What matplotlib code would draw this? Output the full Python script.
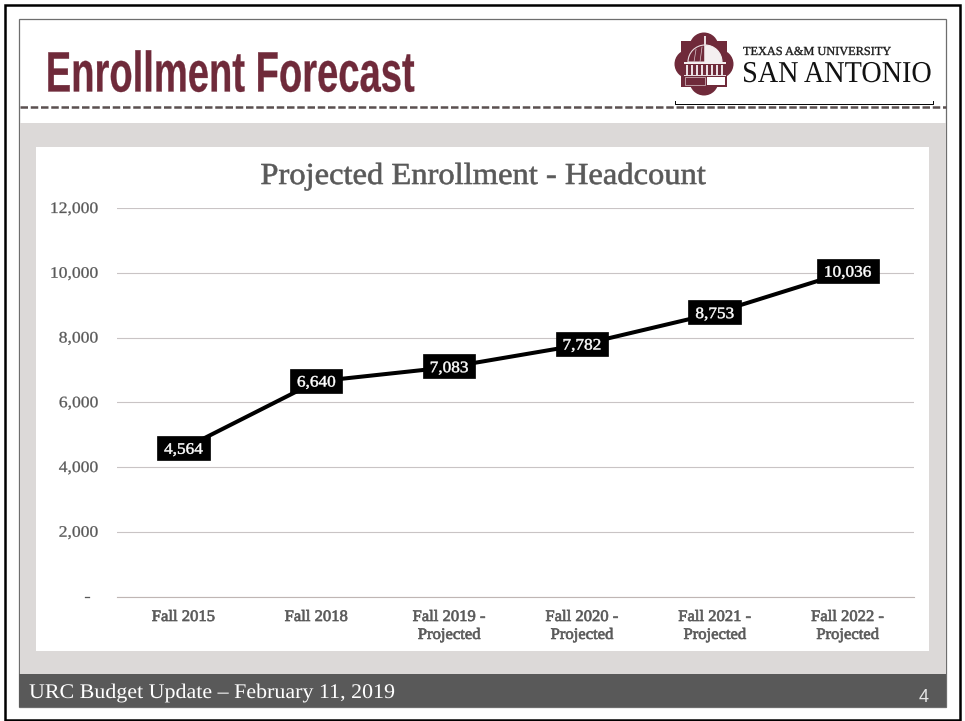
import matplotlib

matplotlib.use("Agg")
import matplotlib.pyplot as plt
from matplotlib.patches import Circle, Rectangle, Wedge
from matplotlib.patheffects import AbstractPathEffect
from matplotlib.transforms import Affine2D

# chart data
categories = [
    "Fall 2015",
    "Fall 2018",
    "Fall 2019 -\nProjected",
    "Fall 2020 -\nProjected",
    "Fall 2021 -\nProjected",
    "Fall 2022 -\nProjected",
]
headcount = [4564, 6640, 7083, 7782, 8753, 10036]
y_ticks = [0, 2000, 4000, 6000, 8000, 10000, 12000]
y_tick_labels = ["-  ", "2,000", "4,000", "6,000", "8,000", "10,000", "12,000"]

WIDTH, HEIGHT = 965, 721
MAROON = "#6f2a3a"
GREY_TEXT = "#595959"
SERIF = ["Liberation Serif", "DejaVu Serif"]


class Stretch(AbstractPathEffect):
    """Scale a text horizontally around a point of its extent, none of the fonts has the right width"""

    def __init__(self, sx, anchor=0.0, stroke=0.0, dy=0.0):
        super().__init__()
        self.sx = sx
        self.anchor = anchor
        self.stroke = stroke
        self.dy = dy

    def draw_path(self, renderer, gc, tpath, affine, rgbFace=None):
        box = tpath.get_extents(affine)
        x0 = box.x0 + self.anchor * box.width
        new_affine = affine + Affine2D().translate(-x0, 0).scale(self.sx, 1).translate(x0, self.dy)
        gc0 = renderer.new_gc()
        gc0.copy_properties(gc)
        if self.stroke > 0 and rgbFace is not None:
            gc0.set_linewidth(self.stroke)
            gc0.set_foreground(rgbFace)
        renderer.draw_path(gc0, tpath, new_affine, rgbFace)
        gc0.restore()


fig = plt.figure(figsize=(WIDTH / 100, HEIGHT / 100), dpi=100, facecolor="white")

# slide background, drawn in pixel coordinates
bg = fig.add_axes([0, 0, 1, 1])
bg.set_xlim(0, WIDTH)
bg.set_ylim(HEIGHT, 0)
bg.axis("off")

bg.add_patch(Rectangle((4.5, 4.5), 955, 715.5, fill=False, ec="black", lw=1.8))
bg.add_patch(Rectangle((19, 19), 927, 688, fc="white", ec="#6e6e6e", lw=0.9))
bg.add_patch(Rectangle((19.5, 123), 926, 551, fc="#dcd9d8", ec="none"))
bg.add_patch(Rectangle((36, 147), 893, 504, fc="white", ec="none"))
bg.add_patch(Rectangle((19, 674), 927, 33, fc="#595959", ec="none"))

bg.plot([675, 675, 933, 933], [101, 104, 104, 101], color="black", lw=0.7)
bg.plot([20, 946], [107, 107], color="#5a5050", lw=1.8, dashes=(3.0, 1.1))

title = bg.text(44.5, 91.5, "Enrollment Forecast", color=MAROON, fontsize=41, va="baseline",
                family=["Liberation Sans", "DejaVu Sans"], fontweight="bold")
title.set_path_effects([Stretch(0.67, 0.0, stroke=0.2)])
footer = bg.text(29, 698, "URC Budget Update – February 11, 2019", color="white", fontsize=15,
                 va="baseline", family=SERIF)
footer.set_path_effects([Stretch(1.055)])
bg.text(924, 702, "4", color="#e6e6e6", fontsize=13, ha="center", va="baseline",
        family=["Liberation Sans", "DejaVu Sans"])

# logo: scalloped seal with a half lit dome
for cx, cy, r in [(704, 47, 14.5), (704, 81, 14.5), (689, 64, 14.5), (719, 64, 14.5)]:
    bg.add_patch(Circle((cx, cy), r, fc=MAROON, ec="none"))
bg.add_patch(Rectangle((681, 41), 46, 46, fc=MAROON, ec="none"))
bg.add_patch(Wedge((705, 62), 17, 180, 270, fc=MAROON, ec="#e8dcdf", lw=0.8))
bg.add_patch(Wedge((705, 62), 17, 270, 360, fc="#f4eff0", ec="#f4eff0", lw=0.8))
for rib_x in (694, 700):
    bg.plot([rib_x + 2, rib_x], [47 + (700 - rib_x) * 0.4, 62], color="#d9c6cb", lw=0.5)
bg.add_patch(Rectangle((704.2, 36), 1.8, 10, fc="#e8dcdf", ec="none"))
bg.add_patch(Rectangle((684, 62), 42, 2.2, fc="#f4eff0", ec="none"))
for col_x in (686, 691, 696, 701, 706, 711, 716, 721):
    bg.add_patch(Rectangle((col_x, 65), 2.4, 9.5, fc="#eadfe2", ec="none"))
bg.add_patch(Rectangle((684, 75), 42, 1.4, fc="#eadfe2", ec="none"))
bg.add_patch(Rectangle((707, 77), 18, 8, fc="white", ec="none"))
bg.add_patch(Rectangle((685, 77), 20, 8, fc="none", ec="#d9c6cb", lw=0.5))

bg.text(743, 55, "TEXAS A&M UNIVERSITY", color="#1a1a1a", fontsize=8.85, va="baseline",
        family=SERIF).set_path_effects([Stretch(1.0, 0.0, stroke=0.25)])
bg.text(742, 82, "SAN ANTONIO", color="#111111", fontsize=21.8, va="baseline",
        family=SERIF).set_path_effects([Stretch(0.93)])

# chart
left, right, top, bottom = 117, 914, 208, 596.5
ax = fig.add_axes([left / WIDTH, 1 - bottom / HEIGHT, (right - left) / WIDTH, (bottom - top) / HEIGHT])
ax.patch.set_alpha(0)
x = list(range(len(categories)))
ax.plot(x, headcount, color="black", lw=2.9, solid_capstyle="round", zorder=3)
for xi, val in zip(x, headcount):
    label = ax.annotate(f"{val:,}", (xi, val), ha="center", va="center", color="white", fontsize=11.5,
                        family=SERIF, zorder=4,
                        bbox=dict(boxstyle="square,pad=0.25", fc="black", ec="black", lw=0.5))
    label.set_path_effects([Stretch(1.08, 0.5, stroke=0.35, dy=-1)])
    label.get_bbox_patch().set_path_effects([Stretch(1.2, 0.5, dy=1)])

ax.set_xlim(-0.5, 5.5)
ax.set_ylim(0, 12000)
ax.set_yticks(y_ticks, y_tick_labels, family=SERIF, fontsize=11.5, color=GREY_TEXT)
ax.set_xticks(x, categories, family=SERIF, fontsize=11.5, color=GREY_TEXT, linespacing=1.16)
for tick in ax.get_yticklabels():
    tick.set_path_effects([Stretch(1.1, 1.0, stroke=0.2, dy=1)])
for tick in ax.get_xticklabels():
    tick.set_path_effects([Stretch(1.04, 0.5, stroke=0.5)])
ax.tick_params(length=0)
ax.tick_params(axis="y", pad=13.5)
ax.tick_params(axis="x", pad=9)
ax.grid(axis="y", color="#c9c4c5", lw=0.8)
ax.set_axisbelow(True)
for side in ("top", "right", "left"):
    ax.spines[side].set_visible(False)
ax.spines["bottom"].set_color("#bfb6b4")
ax.spines["bottom"].set_linewidth(0.8)

chart_title = bg.text(482.5, 184, "Projected Enrollment - Headcount", color=GREY_TEXT, fontsize=22,
                      ha="center", va="baseline", family=SERIF)
chart_title.set_path_effects([Stretch(1.065, 0.5, stroke=0.45)])

fig.savefig("out.png", dpi=100)
